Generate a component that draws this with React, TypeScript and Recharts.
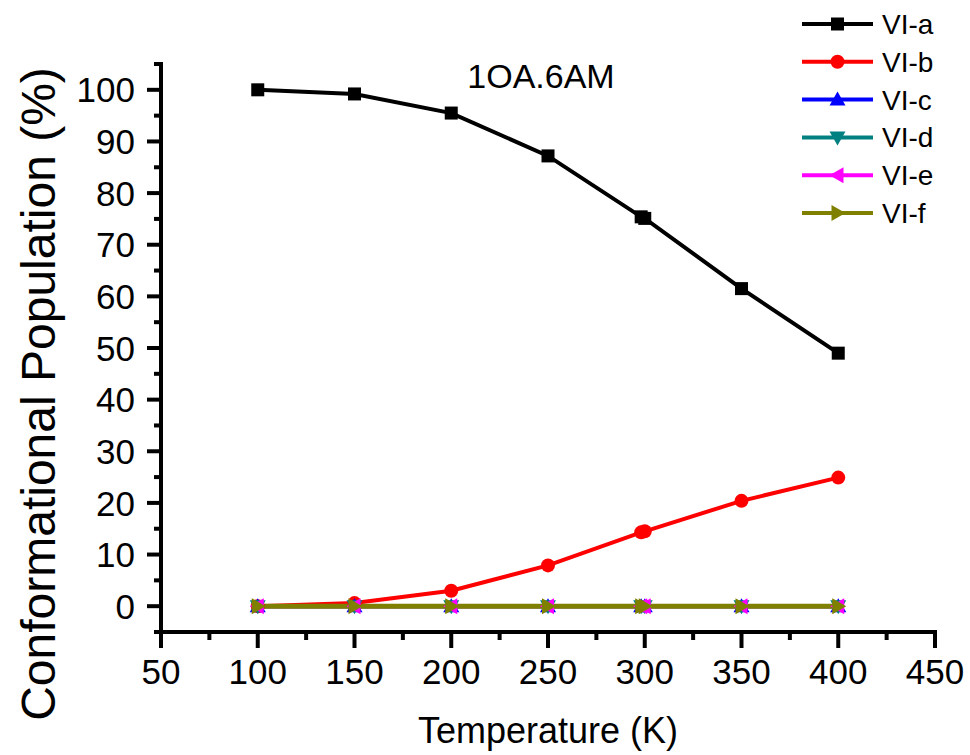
import React from "react";
import { LineChart, Line, XAxis, YAxis, Legend, Label } from "recharts";

// Temperatures (K); the 298.15 point sits right beside 300
const temps = [100, 150, 200, 250, 298.15, 300, 350, 400];
const viA = [100, 99.2, 95.5, 87.2, 75.4, 75.1, 61.5, 49.0];
const viB = [0, 0.6, 3.0, 7.9, 14.3, 14.5, 20.4, 24.9];
const viC = [0, 0, 0, 0, 0, 0, 0, 0];
const viD = [0, 0, 0, 0, 0, 0, 0, 0];
const viE = [0, 0, 0, 0, 0, 0, 0, 0];
const viF = [0, 0, 0, 0, 0, 0, 0, 0];

const xMajor = [50, 100, 150, 200, 250, 300, 350, 400, 450];
const xMinor = [75, 125, 175, 225, 275, 325, 375, 425];
const yMajor = [0, 10, 20, 30, 40, 50, 60, 70, 80, 90, 100];
const yMinor = [-5, 5, 15, 25, 35, 45, 55, 65, 75, 85, 95, 105];

const FONT = "'Liberation Sans', Arial, sans-serif";

const series = [
  { key: "a", name: "VI-a", color: "#000000", shape: "square", values: viA },
  { key: "b", name: "VI-b", color: "#FF0000", shape: "circle", values: viB },
  { key: "c", name: "VI-c", color: "#0000FF", shape: "up", values: viC },
  { key: "d", name: "VI-d", color: "#008080", shape: "down", values: viD },
  { key: "e", name: "VI-e", color: "#FF00FF", shape: "left", values: viE },
  { key: "f", name: "VI-f", color: "#808000", shape: "right", values: viF },
];

const data = temps.map((t, i) => {
  const row: Record<string, number> = { t };
  series.forEach(s => { row[s.key] = s.values[i]; });
  return row;
});

function Marker({ shape, cx, cy, color }: { shape: string; cx: number; cy: number; color: string }) {
  if (cx == null || cy == null) return null;
  switch (shape) {
    case "square":
      return <rect x={cx - 6.5} y={cy - 6.5} width={13} height={13} fill={color} />;
    case "circle":
      return <circle cx={cx} cy={cy} r={7} fill={color} />;
    case "up":
      return <polygon points={`${cx},${cy - 8} ${cx - 8},${cy + 6} ${cx + 8},${cy + 6}`} fill={color} />;
    case "down":
      return <polygon points={`${cx},${cy + 8} ${cx - 8},${cy - 6} ${cx + 8},${cy - 6}`} fill={color} />;
    case "left":
      return <polygon points={`${cx - 8},${cy} ${cx + 6},${cy - 8} ${cx + 6},${cy + 8}`} fill={color} />;
    default:
      return <polygon points={`${cx + 8},${cy} ${cx - 6},${cy - 8} ${cx - 6},${cy + 8}`} fill={color} />;
  }
}

const XTick = (props: any) => {
  const { x, y, payload } = props;
  const major = xMajor.includes(payload.value);
  return (
    <g>
      <line x1={x} x2={x} y1={y} y2={y + (major ? 16 : 8)} stroke="#000" strokeWidth={4} />
      {major && (
        <text x={x} y={y + 52} textAnchor="middle" fontSize={35} fontFamily={FONT} fill="#000">
          {payload.value}
        </text>
      )}
    </g>
  );
};

const YTick = (props: any) => {
  const { x, y, payload } = props;
  const major = yMajor.includes(payload.value);
  return (
    <g>
      <line x1={x} x2={x - (major ? 14 : 7)} y1={y} y2={y} stroke="#000" strokeWidth={4} />
      {major && (
        <text x={x - 26} y={y} dy="0.36em" textAnchor="end" fontSize={35} fontFamily={FONT} fill="#000">
          {payload.value}
        </text>
      )}
    </g>
  );
};

const LegendBox = () => (
  <svg width={175} height={235}>
    {series.map((s, i) => {
      const cy = 24 + i * 37.8;
      return (
        <g key={s.key}>
          <line x1={7} x2={78} y1={cy} y2={cy} stroke={s.color} strokeWidth={4} />
          <Marker shape={s.shape} cx={42.5} cy={cy} color={s.color} />
          <text x={87} y={cy} dy="0.36em" fontSize={28} fontFamily={FONT} fill="#000">{s.name}</text>
        </g>
      );
    })}
  </svg>
);

export default function App() {
  const xTicks = [...xMajor, ...xMinor].sort((a, b) => a - b);
  const yTicks = [...yMajor, ...yMinor].sort((a, b) => a - b);
  return (
    <div style={{ position: "absolute", left: 0, top: 0, width: 970, height: 755, background: "#fff", fontFamily: FONT }}>
      <LineChart width={970} height={755} data={data} margin={{ top: 64, right: 35, left: 61, bottom: 63 }}>
        <XAxis
          dataKey="t"
          type="number"
          domain={[50, 450]}
          ticks={xTicks}
          interval={0}
          tick={<XTick />}
          tickLine={false}
          tickSize={0}
          tickMargin={0}
          height={60}
          axisLine={{ stroke: "#000", strokeWidth: 4, strokeLinecap: "square" }}
        >
          <Label
            content={() => (
              <text x={548} y={743} textAnchor="middle" fontSize={36} fontFamily={FONT} fill="#000">
                Temperature (K)
              </text>
            )}
          />
        </XAxis>
        <YAxis
          type="number"
          domain={[-5, 105]}
          ticks={yTicks}
          interval={0}
          tick={<YTick />}
          tickLine={false}
          tickSize={0}
          tickMargin={0}
          width={100}
          axisLine={{ stroke: "#000", strokeWidth: 4, strokeLinecap: "square" }}
        >
          <Label
            content={() => (
              <text
                x={55}
                y={394}
                transform="rotate(-90, 55, 394)"
                textAnchor="middle"
                fontSize={48}
                fontFamily={FONT}
                fill="#000"
              >
                Conformational Population (%)
              </text>
            )}
          />
        </YAxis>
        <Legend
          layout="vertical"
          align="center"
          verticalAlign="middle"
          content={<LegendBox />}
          wrapperStyle={{ position: "absolute", left: 795, top: 0, width: 175, height: 235 }}
        />
        {series.map(s => (
          <Line
            key={s.key}
            dataKey={s.key}
            name={s.name}
            stroke={s.color}
            strokeWidth={s.key === "f" ? 5 : 4}
            isAnimationActive={false}
            dot={(p: any) => <Marker key={`${s.key}-${p.index}`} shape={s.shape} cx={p.cx} cy={p.cy} color={s.color} />}
            activeDot={false}
          />
        ))}
      </LineChart>
      <svg width={970} height={755} style={{ position: "absolute", left: 0, top: 0, pointerEvents: "none" }}>
        <text x={541} y={88} textAnchor="middle" fontSize={34} fontFamily={FONT} fill="#000">1OA.6AM</text>
      </svg>
    </div>
  );
}
